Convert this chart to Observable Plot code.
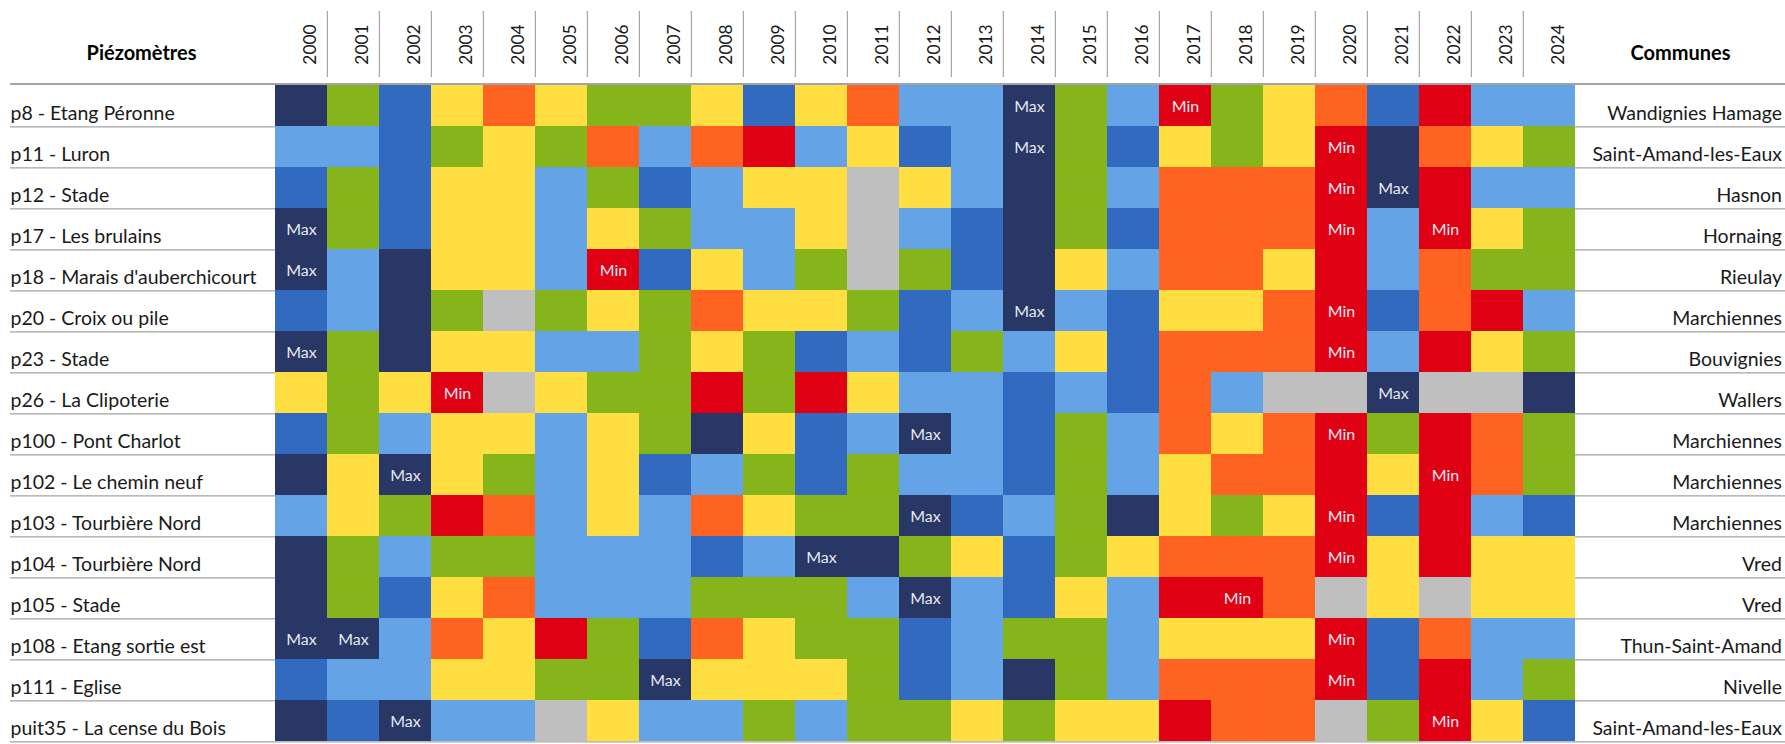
<!DOCTYPE html>
<html>
<head>
<meta charset="utf-8">
<script src="https://cdn.jsdelivr.net/npm/d3@7"></script>
<script src="https://cdn.jsdelivr.net/npm/@observablehq/plot@0.6"></script>
<style>
  html, body { margin: 0; padding: 0; background: #fff; overflow: hidden; }
  svg { display: block; }
</style>
</head>
<body>
<div id="chart"></div>
<script>
const years = ["2000","2001","2002","2003","2004","2005","2006","2007","2008","2009","2010","2011","2012",
               "2013","2014","2015","2016","2017","2018","2019","2020","2021","2022","2023","2024"];

const stations = [
  "p8 - Etang Péronne", "p11 - Luron", "p12 - Stade", "p17 - Les brulains",
  "p18 - Marais d'auberchicourt", "p20 - Croix ou pile", "p23 - Stade", "p26 - La Clipoterie",
  "p100 - Pont Charlot", "p102 - Le chemin neuf", "p103 - Tourbière Nord", "p104 - Tourbière Nord",
  "p105 - Stade", "p108 - Etang sortie est", "p111 - Eglise", "puit35 - La cense du Bois"
];

const communes = [
  "Wandignies Hamage", "Saint-Amand-les-Eaux", "Hasnon", "Hornaing",
  "Rieulay", "Marchiennes", "Bouvignies", "Wallers",
  "Marchiennes", "Marchiennes", "Marchiennes", "Vred",
  "Vred", "Thun-Saint-Amand", "Nivelle", "Saint-Amand-les-Eaux"
];

// Level class per year (one letter per year, 2000 -> 2024)
// N very high, B high, L fairly high, G normal, Y fairly low, O low, R very low, S no data
const levelCodes = ["N", "B", "L", "G", "Y", "O", "R", "S"];
const levelColors = ["#283766", "#316abf", "#63a3e6", "#85b51a", "#fede41", "#ff6322", "#df0013", "#bfbfbf"];

const levels = [
  "NGBYOYGGYBYOLLNGLRGYOBRLL",
  "LLBGYGOLORLYBLNGBYGYRNOYG",
  "BGBYYLGBLYYSYLNGLOOORNRLL",
  "NGBYYLYGLLYSLBNGBOOORLRYG",
  "NLNYYLRBYLGSGBNYLOOYRLOGG",
  "BLNGSGYGOYYGBLNLBYYORBORL",
  "NGNYYLLGYGBLBGLYBOOORLRYG",
  "YGYRSYGGRGRYLLBLBOLSSNSSN",
  "BGLYYLYGNYBLNLBGLOYORGROG",
  "NYNYGLYBLGBGLLBGLYOORYROG",
  "LYGROLYLOYGGNBLGNYGYRBRLB",
  "NGLGGLLLBLNNGYBGYOOORYRYY",
  "NGBYOLLLGGGLNLBYLRROSYSYY",
  "NNLOYRGBOYGGBLGGLYYYRBOLL",
  "BLLYYGGNYYYGBLNGLOOORBRLG",
  "NBNLLSYLLGLGGYGYYROOSGRYB"
];

// Record extremes: [station index, year, label]
const extremes = [
  [0, "2014", "Max"], [0, "2017", "Min"],
  [1, "2014", "Max"], [1, "2020", "Min"],
  [2, "2020", "Min"], [2, "2021", "Max"],
  [3, "2000", "Max"], [3, "2020", "Min"], [3, "2022", "Min"],
  [4, "2000", "Max"], [4, "2006", "Min"],
  [5, "2014", "Max"], [5, "2020", "Min"],
  [6, "2000", "Max"], [6, "2020", "Min"],
  [7, "2003", "Min"], [7, "2021", "Max"],
  [8, "2012", "Max"], [8, "2020", "Min"],
  [9, "2002", "Max"], [9, "2022", "Min"],
  [10, "2012", "Max"], [10, "2020", "Min"],
  [11, "2010", "Max"], [11, "2020", "Min"],
  [12, "2012", "Max"], [12, "2018", "Min"],
  [13, "2000", "Max"], [13, "2001", "Max"], [13, "2020", "Min"],
  [14, "2007", "Max"], [14, "2020", "Min"],
  [15, "2002", "Max"], [15, "2022", "Min"]
];

const cells = stations.flatMap((s, i) =>
  years.map((y, j) => ({station: s, year: y, level: levels[i][j]})));
const marks = extremes.map(([i, y, t]) => ({station: stations[i], year: y, text: t}));
const communeRows = stations.map((s, i) => ({station: s, commune: communes[i]}));

const W = 1785;
const mL = 272.3, mR = 207.3, mT = 78, mB = 0;
const rowH = 41.9;
const H = mT + rowH * stations.length + mB;
const colW = (W - mL - mR) / years.length;
const font = "Lato, 'Open Sans', sans-serif";
const labelSize = 19.5;

const chart = Plot.plot({
  width: W, height: H,
  marginLeft: mL, marginRight: mR, marginTop: mT, marginBottom: mB,
  style: {fontFamily: font, background: "#fff"},
  x: {domain: years, padding: 0, axis: null},
  y: {domain: stations, padding: 0, axis: null},
  color: {type: "ordinal", domain: levelCodes, range: levelColors},
  marks: [
    // row underlines (label areas on both sides)
    Plot.ruleY(stations, {y: d => d, dy: rowH / 2, insetLeft: -(mL - 10), insetRight: -mR,
      stroke: "#a3a3a3", strokeWidth: 1.3}),
    // header separator line
    Plot.ruleY([stations[0]], {y: d => d, dy: -rowH / 2 - 1, insetLeft: -(mL - 10), insetRight: -mR,
      stroke: "#a3a3a3", strokeWidth: 2}),
    // year header separators
    Plot.ruleX(years.slice(1), {x: d => d, dx: -colW / 2, insetTop: -(mT - 11), insetBottom: H - mT - mB + 1,
      stroke: "#a6a6a6", strokeWidth: 1.2}),
    Plot.cell(cells, {x: "year", y: "station", fill: "level", inset: 0}),
    Plot.text(marks, {x: "year", y: "station", text: "text", fill: "#e6e8f0", fontSize: 16, dy: 1}),
    // station labels
    Plot.text(stations, {y: d => d, text: d => d, frameAnchor: "left", textAnchor: "start",
      dx: -(mL - 10), dy: 8, fontSize: labelSize, fill: "#1a1a1a"}),
    // commune labels
    Plot.text(communeRows, {y: "station", text: "commune", frameAnchor: "right", textAnchor: "end",
      dx: mR - 3.5, dy: 8, fontSize: labelSize, fill: "#1a1a1a"}),
    // year labels
    Plot.text(years, {x: d => d, text: d => d, frameAnchor: "top", rotate: -90, dx: 2, dy: 44 - mT,
      fontSize: 17.4, fill: "#1a1a1a"}),
    // column titles
    Plot.text(["Piézomètres"], {text: d => d, frameAnchor: "top-left", textAnchor: "middle",
      dx: 141 - mL, dy: 45.6 - mT, fontSize: 20, fontWeight: "bold", fill: "#000"}),
    Plot.text(["Communes"], {text: d => d, frameAnchor: "top-right", textAnchor: "middle",
      dx: 1680 - (W - mR), dy: 45.6 - mT, fontSize: 20, fontWeight: "bold", fill: "#000"})
  ]
});

document.getElementById("chart").appendChild(chart);
</script>
</body>
</html>
